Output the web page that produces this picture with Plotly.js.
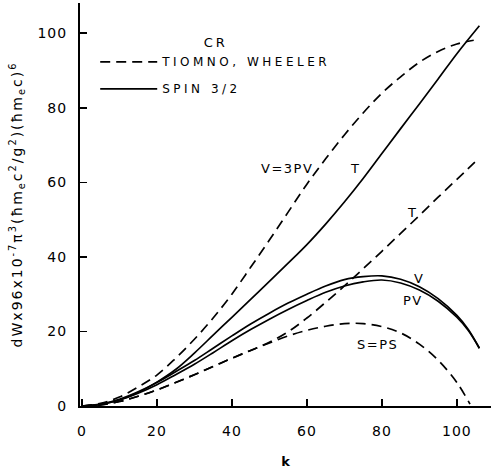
<!DOCTYPE html>
<html>
<head>
<meta charset="utf-8">
<script src="https://cdn.plot.ly/plotly-3.0.1.min.js"></script>
<style>
  html, body { margin: 0; padding: 0; background: #fff; }
  #chart { width: 492px; height: 470px; }
  text.legendtext { letter-spacing: 3.5px; }
  text.legendtitletext { letter-spacing: 3px; }
  text.annotation-text { letter-spacing: 1.5px; }
  text.ytitle { letter-spacing: 2px; }
  .xtick text, .ytick text { letter-spacing: 1px; }
</style>
</head>
<body>
<div id="chart"></div>
<script>
// ---- data ----
// Tiomno–Wheeler (dashed)
const kV3pv = [0,5,10,15,20,25,30,35,40,45,50,55,60,65,70,75,80,85,90,95,100,104.5];
const v3pv  = [0,0.7,2.4,5.1,8.3,12.8,17.9,23.6,30,37.2,44.5,52,59.5,66.3,72.7,78.6,83.9,88.3,92.2,95.1,97.1,98.1];

const kTtw  = [0,5,10,15,20,25,30,35,40,45,50,55,60,65,70,75,80,85,90,95,100,104.8];
const tTw   = [0,0.3,1.2,2.6,4.3,6.3,8.4,10.6,12.8,14.9,17.1,19.9,23.6,27.8,32.2,36.8,41.5,46.3,51.1,56,60.8,65.4];

const kSps  = [0,5,10,15,20,25,30,35,40,45,50,55,60,65,70,75,80,85,90,95,100,103.5];
const sPs   = [0,0.3,1.2,2.6,4.3,6.3,8.4,10.6,12.8,14.9,16.9,18.8,20.3,21.4,22.1,22.1,21.3,19.6,16.6,12.3,6.3,0.5];

// Spin 3/2 (solid)
const kTsp  = [0,5,10,15,20,25,30,35,40,45,50,55,60,65,70,75,80,85,90,95,100,106];
const tSp   = [0,0.4,1.6,3.6,6.4,9.8,14.2,19,23.8,28.6,33.4,38.3,43.3,48.8,54.7,61,67.7,74.4,81,87.7,94.5,102];

const kVsp  = [0,5,10,15,20,25,30,35,40,45,50,55,60,65,70,75,80,85,90,95,100,103,106];
const vSp   = [0,0.5,1.8,3.8,6.3,9.2,12.2,15.5,18.8,22,24.9,27.6,30,32.2,33.9,34.7,34.9,34,32,28.8,24.3,20.6,15.5];
const pvSp  = [0,0.45,1.6,3.4,5.7,8.4,11.2,14.3,17.5,20.5,23.3,25.9,28.3,30.5,32.2,33.3,33.8,33,31.1,28.1,23.8,20.3,15.5];

const xTicks = [0,20,40,60,80,100];
const yTicks = [0,20,40,60,80,100];
const legendNames = ["TIOMNO, WHEELER", "SPIN 3/2"];
const legendTitle = "CR";

// curve labels: [text, k, value]
const curveLabels = [
  ["V=3PV", 54.7, 63.8],
  ["T", 72.8, 63.8],
  ["T", 88.0, 52.0],
  ["V", 89.9, 34.3],
  ["PV", 88.3, 28.2],
  ["S=PS", 78.7, 16.4]
];

// ---- styling ----
const FONT = "DejaVu Sans, Liberation Sans, Arial, sans-serif";
const dashStyle = {color: "#000", width: 1.7, dash: "10px,6px", shape: "spline", smoothing: 1};
const solidStyle = {color: "#000", width: 1.7, dash: "solid", shape: "spline", smoothing: 1};

const traces = [
  {x: kV3pv, y: v3pv, mode: "lines", line: dashStyle, name: legendNames[0], legendgroup: "tw", showlegend: true},
  {x: kTtw, y: tTw, mode: "lines", line: dashStyle, name: legendNames[0], legendgroup: "tw", showlegend: false},
  {x: kSps, y: sPs, mode: "lines", line: dashStyle, name: legendNames[0], legendgroup: "tw", showlegend: false},
  {x: kTsp, y: tSp, mode: "lines", line: solidStyle, name: legendNames[1], legendgroup: "sp", showlegend: true},
  {x: kVsp, y: vSp, mode: "lines", line: solidStyle, name: legendNames[1], legendgroup: "sp", showlegend: false},
  {x: kVsp, y: pvSp, mode: "lines", line: solidStyle, name: legendNames[1], legendgroup: "sp", showlegend: false}
];

const annotations = curveLabels.map(c => ({
  text: c[0], x: c[1], y: c[2], xref: "x", yref: "y",
  showarrow: false, font: {family: FONT, size: 13, color: "#000"}
}));

const layout = {
  width: 492, height: 470,
  margin: {l: 80, r: 1, t: 3, b: 64, pad: 0},
  paper_bgcolor: "#fff", plot_bgcolor: "#fff",
  font: {family: FONT, size: 13, color: "#000"},
  showlegend: true,
  legend: {
    x: 0.037, y: 0.932, xanchor: "left", yanchor: "top",
    bgcolor: "rgba(0,0,0,0)", borderwidth: 0,
    itemwidth: 57, tracegroupgap: 8, traceorder: "grouped",
    font: {family: FONT, size: 12, color: "#000"},
    title: {text: legendTitle, side: "top center", font: {family: FONT, size: 13, color: "#000"}}
  },
  xaxis: {
    range: [-0.5, 109.1], tickvals: xTicks, ticktext: xTicks.map(String),
    ticks: "inside", ticklen: 7, tickwidth: 1.5, tickcolor: "#000",
    showline: true, linecolor: "#000", linewidth: 2, mirror: false,
    showgrid: false, zeroline: false, ticklabelstandoff: 11,
    tickfont: {family: FONT, size: 14, color: "#000"},
    title: {text: "k", standoff: 19, font: {family: FONT, size: 13, color: "#000", weight: "bold"}}
  },
  yaxis: {
    range: [0, 108.1], tickvals: yTicks, ticktext: yTicks.map(String),
    ticks: "inside", ticklen: 7, tickwidth: 1.5, tickcolor: "#000",
    showline: true, linecolor: "#000", linewidth: 2, mirror: false,
    showgrid: false, zeroline: false, ticklabelstandoff: 8,
    tickfont: {family: FONT, size: 14, color: "#000"},
    title: {
      text: "dWx96x10<sup>-7</sup>π<sup>3</sup>(ħm<sub>e</sub>c<sup>2</sup>/g<sup>2</sup>)(ħm<sub>e</sub>c)<sup>6</sup>",
      standoff: 12, font: {family: FONT, size: 14, color: "#000"}
    }
  },
  annotations: annotations
};

Plotly.newPlot("chart", traces, layout, {displayModeBar: false, staticPlot: true});
</script>
</body>
</html>
